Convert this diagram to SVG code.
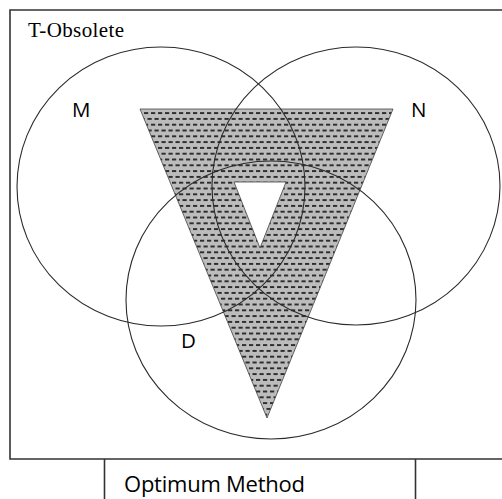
<svg xmlns="http://www.w3.org/2000/svg" width="502" height="499" viewBox="0 0 502 499">
<defs>
<pattern id="dash" x="0" y="0" width="7" height="11.6" patternUnits="userSpaceOnUse">
<rect width="7" height="11.6" fill="#bcbcbc"/>
<rect x="0.5" y="2" width="4.2" height="1.8" fill="#222"/>
<rect x="4" y="7.8" width="4.2" height="1.8" fill="#222"/>
<rect x="-3" y="7.8" width="4.2" height="1.8" fill="#222"/>
</pattern>
</defs>
<style>
.c{fill:none;stroke:#2b2b2b;stroke-width:1.1}
.l{fill:none;stroke:#333;stroke-width:1.6}
.sans{font-family:"Open Sans","Liberation Sans",sans-serif;fill:#000}
.serif{font-family:"Liberation Serif","Times New Roman",serif;fill:#000}
</style>
<rect width="502" height="499" fill="#fff"/>
<g id="frame">
<path class="l" d="M502 10 H10 V459 H502"/>
<path class="l" d="M104.5 459 V499 M415.5 459 V499"/>
</g>
<g id="shape">
<path d="M140 109 H393 L267 418 Z M234 182 L260 248 L286 182 Z" fill="url(#dash)" fill-rule="evenodd" stroke="#444" stroke-width="0.8"/>
</g>
<g id="M"><ellipse class="c" cx="161" cy="186.5" rx="144" ry="139.5"/></g>
<g id="N"><ellipse class="c" cx="356" cy="186" rx="144" ry="139"/></g>
<g id="D"><ellipse class="c" cx="271" cy="300" rx="145" ry="139"/></g>
<g id="labels">
<text class="serif" x="28" y="37" font-size="21" textLength="96">T-Obsolete</text>
<text class="sans" x="72" y="117" font-size="20.5">M</text>
<text class="sans" x="411" y="117" font-size="20.5">N</text>
<text class="sans" x="181" y="348" font-size="20.5">D</text>
<text class="sans" x="124" y="492" font-size="22" textLength="181">Optimum Method</text>
</g>
</svg>
